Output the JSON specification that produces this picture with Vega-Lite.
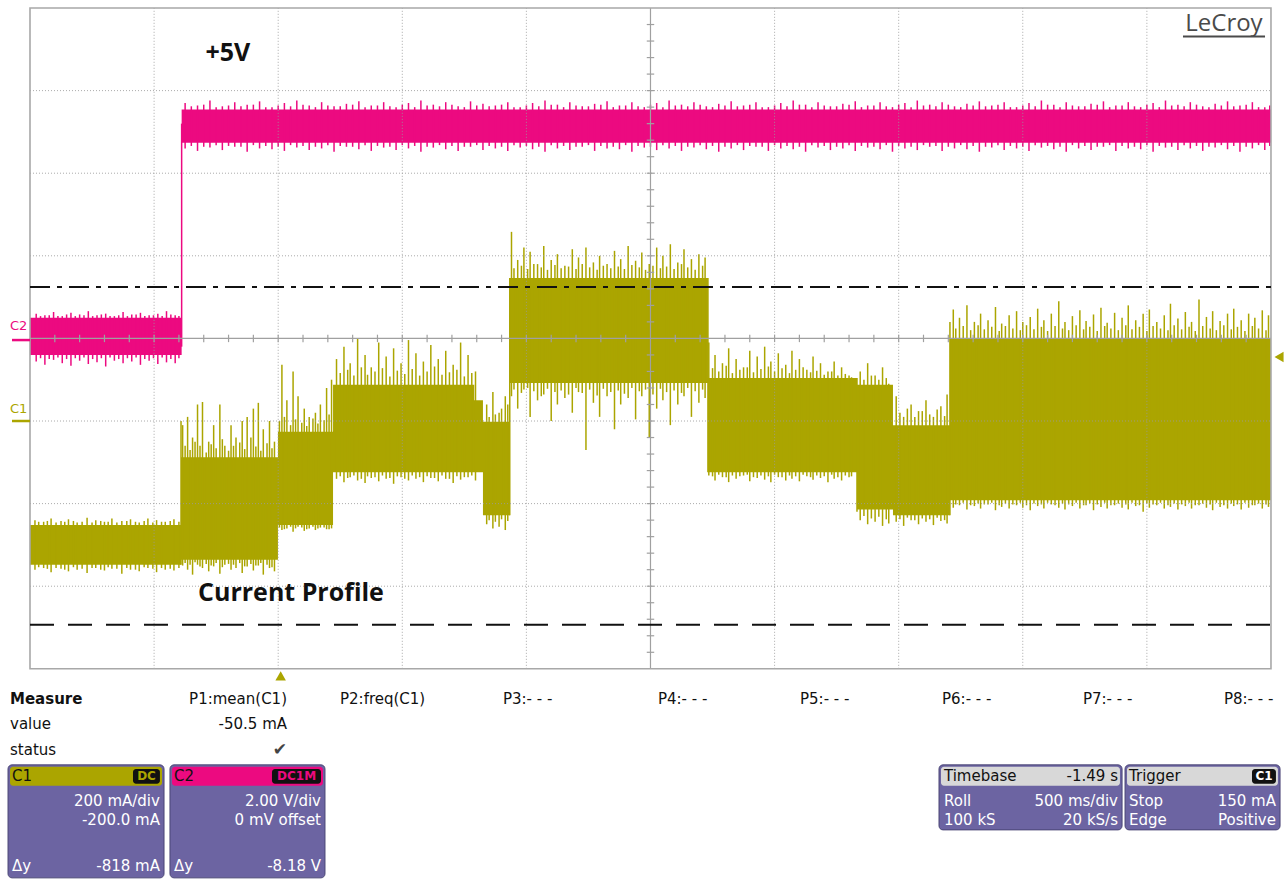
{
  "$schema": "https://vega.github.io/schema/vega-lite/v6.json",
  "width": 1285,
  "height": 882,
  "padding": 0,
  "autosize": {"type": "none"},
  "background": "white",
  "config": {"view": {"stroke": null}},
  "datasets": {
    "c2band": [
      {"t": 0, "lo": -0.2, "hi": 0.25},
      {"t": 1.222, "lo": 2.37, "hi": 2.77},
      {"t": 10, "lo": 2.37, "hi": 2.77}
    ],
    "c2spk": [
      {"t": 0.05, "hi": 0.30, "lo": -0.28}, {"t": 0.12, "hi": 0.28, "lo": -0.32}, {"t": 0.19, "hi": 0.32, "lo": -0.26},
      {"t": 0.26, "hi": 0.27, "lo": -0.30}, {"t": 0.33, "hi": 0.31, "lo": -0.33}, {"t": 0.40, "hi": 0.29, "lo": -0.27},
      {"t": 0.47, "hi": 0.33, "lo": -0.31}, {"t": 0.54, "hi": 0.28, "lo": -0.29}, {"t": 0.61, "hi": 0.30, "lo": -0.34},
      {"t": 0.68, "hi": 0.27, "lo": -0.27}, {"t": 0.75, "hi": 0.32, "lo": -0.30}, {"t": 0.82, "hi": 0.29, "lo": -0.28},
      {"t": 0.89, "hi": 0.31, "lo": -0.32}, {"t": 0.96, "hi": 0.28, "lo": -0.27}, {"t": 1.03, "hi": 0.30, "lo": -0.31},
      {"t": 1.10, "hi": 0.33, "lo": -0.29}, {"t": 1.17, "hi": 0.28, "lo": -0.30},
      {"t": 0.085, "hi": 0.27, "lo": -0.24}, {"t": 0.155, "hi": 0.28, "lo": -0.25}, {"t": 0.225, "hi": 0.27, "lo": -0.23},
      {"t": 0.295, "hi": 0.29, "lo": -0.25}, {"t": 0.365, "hi": 0.27, "lo": -0.24}, {"t": 0.435, "hi": 0.28, "lo": -0.23},
      {"t": 0.505, "hi": 0.27, "lo": -0.25}, {"t": 0.575, "hi": 0.29, "lo": -0.24}, {"t": 0.645, "hi": 0.27, "lo": -0.23},
      {"t": 0.715, "hi": 0.28, "lo": -0.25}, {"t": 0.785, "hi": 0.27, "lo": -0.24}, {"t": 0.855, "hi": 0.29, "lo": -0.23},
      {"t": 0.925, "hi": 0.27, "lo": -0.25}, {"t": 0.995, "hi": 0.28, "lo": -0.24}, {"t": 1.065, "hi": 0.27, "lo": -0.23},
      {"t": 1.135, "hi": 0.29, "lo": -0.25}, {"t": 1.20, "hi": 0.27, "lo": -0.24},
      {"t": 1.222, "hi": 2.6, "lo": -0.1},
      {"t": 1.25, "hi": 2.85, "lo": 2.30}, {"t": 1.35, "hi": 2.82, "lo": 2.27}, {"t": 1.45, "hi": 2.88, "lo": 2.31},
      {"t": 1.55, "hi": 2.81, "lo": 2.28}, {"t": 1.65, "hi": 2.86, "lo": 2.32}, {"t": 1.75, "hi": 2.83, "lo": 2.26},
      {"t": 1.85, "hi": 2.87, "lo": 2.30}, {"t": 1.95, "hi": 2.80, "lo": 2.29}, {"t": 2.05, "hi": 2.85, "lo": 2.27},
      {"t": 2.15, "hi": 2.88, "lo": 2.31}, {"t": 2.25, "hi": 2.82, "lo": 2.28}, {"t": 2.35, "hi": 2.86, "lo": 2.30},
      {"t": 2.45, "hi": 2.81, "lo": 2.26}, {"t": 2.55, "hi": 2.84, "lo": 2.32}, {"t": 2.65, "hi": 2.87, "lo": 2.29},
      {"t": 2.75, "hi": 2.82, "lo": 2.27}, {"t": 2.85, "hi": 2.86, "lo": 2.31}, {"t": 2.95, "hi": 2.80, "lo": 2.28},
      {"t": 3.05, "hi": 2.85, "lo": 2.30}, {"t": 3.15, "hi": 2.88, "lo": 2.26}, {"t": 3.25, "hi": 2.83, "lo": 2.31},
      {"t": 3.35, "hi": 2.86, "lo": 2.29}, {"t": 3.45, "hi": 2.81, "lo": 2.27}, {"t": 3.55, "hi": 2.87, "lo": 2.32},
      {"t": 3.65, "hi": 2.84, "lo": 2.28}, {"t": 3.75, "hi": 2.82, "lo": 2.30}, {"t": 3.85, "hi": 2.86, "lo": 2.27},
      {"t": 3.95, "hi": 2.80, "lo": 2.31}, {"t": 4.05, "hi": 2.85, "lo": 2.29}, {"t": 4.15, "hi": 2.88, "lo": 2.26},
      {"t": 4.25, "hi": 2.83, "lo": 2.30}, {"t": 4.35, "hi": 2.86, "lo": 2.28}, {"t": 4.45, "hi": 2.81, "lo": 2.32},
      {"t": 4.55, "hi": 2.84, "lo": 2.27}, {"t": 4.65, "hi": 2.87, "lo": 2.30}, {"t": 4.75, "hi": 2.82, "lo": 2.29},
      {"t": 4.85, "hi": 2.86, "lo": 2.26}, {"t": 4.95, "hi": 2.80, "lo": 2.31}, {"t": 5.05, "hi": 2.85, "lo": 2.28},
      {"t": 5.15, "hi": 2.88, "lo": 2.30}, {"t": 5.25, "hi": 2.83, "lo": 2.27}, {"t": 5.35, "hi": 2.86, "lo": 2.31},
      {"t": 5.45, "hi": 2.81, "lo": 2.29}, {"t": 5.55, "hi": 2.84, "lo": 2.26}, {"t": 5.65, "hi": 2.87, "lo": 2.30},
      {"t": 5.75, "hi": 2.82, "lo": 2.28}, {"t": 5.85, "hi": 2.86, "lo": 2.32}, {"t": 5.95, "hi": 2.80, "lo": 2.27},
      {"t": 6.05, "hi": 2.85, "lo": 2.30}, {"t": 6.15, "hi": 2.88, "lo": 2.29}, {"t": 6.25, "hi": 2.83, "lo": 2.26},
      {"t": 6.35, "hi": 2.86, "lo": 2.31}, {"t": 6.45, "hi": 2.81, "lo": 2.28}, {"t": 6.55, "hi": 2.84, "lo": 2.30},
      {"t": 6.65, "hi": 2.87, "lo": 2.27}, {"t": 6.75, "hi": 2.82, "lo": 2.31}, {"t": 6.85, "hi": 2.86, "lo": 2.29},
      {"t": 6.95, "hi": 2.80, "lo": 2.26}, {"t": 7.05, "hi": 2.85, "lo": 2.30}, {"t": 7.15, "hi": 2.88, "lo": 2.28},
      {"t": 7.25, "hi": 2.83, "lo": 2.32}, {"t": 7.35, "hi": 2.86, "lo": 2.27}, {"t": 7.45, "hi": 2.81, "lo": 2.30},
      {"t": 7.55, "hi": 2.84, "lo": 2.29}, {"t": 7.65, "hi": 2.87, "lo": 2.26}, {"t": 7.75, "hi": 2.82, "lo": 2.31},
      {"t": 7.85, "hi": 2.86, "lo": 2.28}, {"t": 7.95, "hi": 2.80, "lo": 2.30}, {"t": 8.05, "hi": 2.85, "lo": 2.27},
      {"t": 8.15, "hi": 2.88, "lo": 2.31}, {"t": 8.25, "hi": 2.83, "lo": 2.29}, {"t": 8.35, "hi": 2.86, "lo": 2.26},
      {"t": 8.45, "hi": 2.81, "lo": 2.30}, {"t": 8.55, "hi": 2.84, "lo": 2.28}, {"t": 8.65, "hi": 2.87, "lo": 2.32},
      {"t": 8.75, "hi": 2.82, "lo": 2.27}, {"t": 8.85, "hi": 2.86, "lo": 2.30}, {"t": 8.95, "hi": 2.80, "lo": 2.29},
      {"t": 9.05, "hi": 2.85, "lo": 2.26}, {"t": 9.15, "hi": 2.88, "lo": 2.31}, {"t": 9.25, "hi": 2.83, "lo": 2.28},
      {"t": 9.35, "hi": 2.86, "lo": 2.30}, {"t": 9.45, "hi": 2.81, "lo": 2.27}, {"t": 9.55, "hi": 2.84, "lo": 2.31},
      {"t": 9.65, "hi": 2.87, "lo": 2.29}, {"t": 9.75, "hi": 2.82, "lo": 2.26}, {"t": 9.85, "hi": 2.86, "lo": 2.30},
      {"t": 9.95, "hi": 2.80, "lo": 2.28},
      {"t": 1.30, "hi": 2.81, "lo": 2.33}, {"t": 1.40, "hi": 2.83, "lo": 2.32}, {"t": 1.50, "hi": 2.80, "lo": 2.34},
      {"t": 1.60, "hi": 2.82, "lo": 2.33}, {"t": 1.70, "hi": 2.81, "lo": 2.32}, {"t": 1.80, "hi": 2.83, "lo": 2.34},
      {"t": 1.90, "hi": 2.80, "lo": 2.33}, {"t": 2.00, "hi": 2.82, "lo": 2.32}, {"t": 2.10, "hi": 2.81, "lo": 2.34},
      {"t": 2.20, "hi": 2.83, "lo": 2.33}, {"t": 2.30, "hi": 2.80, "lo": 2.32}, {"t": 2.40, "hi": 2.82, "lo": 2.34},
      {"t": 2.50, "hi": 2.81, "lo": 2.33}, {"t": 2.60, "hi": 2.83, "lo": 2.32}, {"t": 2.70, "hi": 2.80, "lo": 2.34},
      {"t": 2.80, "hi": 2.82, "lo": 2.33}, {"t": 2.90, "hi": 2.81, "lo": 2.32}, {"t": 3.00, "hi": 2.83, "lo": 2.34},
      {"t": 3.10, "hi": 2.80, "lo": 2.33}, {"t": 3.20, "hi": 2.82, "lo": 2.32}, {"t": 3.30, "hi": 2.81, "lo": 2.34},
      {"t": 3.40, "hi": 2.83, "lo": 2.33}, {"t": 3.50, "hi": 2.80, "lo": 2.32}, {"t": 3.60, "hi": 2.82, "lo": 2.34},
      {"t": 3.70, "hi": 2.81, "lo": 2.33}, {"t": 3.80, "hi": 2.83, "lo": 2.32}, {"t": 3.90, "hi": 2.80, "lo": 2.34},
      {"t": 4.00, "hi": 2.82, "lo": 2.33}, {"t": 4.10, "hi": 2.81, "lo": 2.32}, {"t": 4.20, "hi": 2.83, "lo": 2.34},
      {"t": 4.30, "hi": 2.80, "lo": 2.33}, {"t": 4.40, "hi": 2.82, "lo": 2.32}, {"t": 4.50, "hi": 2.81, "lo": 2.34},
      {"t": 4.60, "hi": 2.83, "lo": 2.33}, {"t": 4.70, "hi": 2.80, "lo": 2.32}, {"t": 4.80, "hi": 2.82, "lo": 2.34},
      {"t": 4.90, "hi": 2.81, "lo": 2.33}, {"t": 5.00, "hi": 2.83, "lo": 2.32}, {"t": 5.10, "hi": 2.80, "lo": 2.34},
      {"t": 5.20, "hi": 2.82, "lo": 2.33}, {"t": 5.30, "hi": 2.81, "lo": 2.32}, {"t": 5.40, "hi": 2.83, "lo": 2.34},
      {"t": 5.50, "hi": 2.80, "lo": 2.33}, {"t": 5.60, "hi": 2.82, "lo": 2.32}, {"t": 5.70, "hi": 2.81, "lo": 2.34},
      {"t": 5.80, "hi": 2.83, "lo": 2.33}, {"t": 5.90, "hi": 2.80, "lo": 2.32}, {"t": 6.00, "hi": 2.82, "lo": 2.34},
      {"t": 6.10, "hi": 2.81, "lo": 2.33}, {"t": 6.20, "hi": 2.83, "lo": 2.32}, {"t": 6.30, "hi": 2.80, "lo": 2.34},
      {"t": 6.40, "hi": 2.82, "lo": 2.33}, {"t": 6.50, "hi": 2.81, "lo": 2.32}, {"t": 6.60, "hi": 2.83, "lo": 2.34},
      {"t": 6.70, "hi": 2.80, "lo": 2.33}, {"t": 6.80, "hi": 2.82, "lo": 2.32}, {"t": 6.90, "hi": 2.81, "lo": 2.34},
      {"t": 7.00, "hi": 2.83, "lo": 2.33}, {"t": 7.10, "hi": 2.80, "lo": 2.32}, {"t": 7.20, "hi": 2.82, "lo": 2.34},
      {"t": 7.30, "hi": 2.81, "lo": 2.33}, {"t": 7.40, "hi": 2.83, "lo": 2.32}, {"t": 7.50, "hi": 2.80, "lo": 2.34},
      {"t": 7.60, "hi": 2.82, "lo": 2.33}, {"t": 7.70, "hi": 2.81, "lo": 2.32}, {"t": 7.80, "hi": 2.83, "lo": 2.34},
      {"t": 7.90, "hi": 2.80, "lo": 2.33}, {"t": 8.00, "hi": 2.82, "lo": 2.32}, {"t": 8.10, "hi": 2.81, "lo": 2.34},
      {"t": 8.20, "hi": 2.83, "lo": 2.33}, {"t": 8.30, "hi": 2.80, "lo": 2.32}, {"t": 8.40, "hi": 2.82, "lo": 2.34},
      {"t": 8.50, "hi": 2.81, "lo": 2.33}, {"t": 8.60, "hi": 2.83, "lo": 2.32}, {"t": 8.70, "hi": 2.80, "lo": 2.34},
      {"t": 8.80, "hi": 2.82, "lo": 2.33}, {"t": 8.90, "hi": 2.81, "lo": 2.32}, {"t": 9.00, "hi": 2.83, "lo": 2.34},
      {"t": 9.10, "hi": 2.80, "lo": 2.33}, {"t": 9.20, "hi": 2.82, "lo": 2.32}, {"t": 9.30, "hi": 2.81, "lo": 2.34},
      {"t": 9.40, "hi": 2.83, "lo": 2.33}, {"t": 9.50, "hi": 2.80, "lo": 2.32}, {"t": 9.60, "hi": 2.82, "lo": 2.34},
      {"t": 9.70, "hi": 2.81, "lo": 2.33}, {"t": 9.80, "hi": 2.83, "lo": 2.32}, {"t": 9.90, "hi": 2.80, "lo": 2.34},
      {"t": 9.99, "hi": 2.82, "lo": 2.33}
    ],
    "c1band": [
      {"t": 0, "lo": -2.74, "hi": -2.26},
      {"t": 1.217, "lo": -2.68, "hi": -1.44},
      {"t": 1.998, "lo": -2.26, "hi": -1.13},
      {"t": 2.442, "lo": -1.62, "hi": -0.56},
      {"t": 3.58, "lo": -1.62, "hi": -0.75},
      {"t": 3.65, "lo": -2.14, "hi": -1.01},
      {"t": 3.868, "lo": -0.54, "hi": 0.73},
      {"t": 5.463, "lo": -1.62, "hi": -0.48},
      {"t": 6.664, "lo": -2.07, "hi": -0.56},
      {"t": 6.954, "lo": -2.14, "hi": -1.05},
      {"t": 7.413, "lo": -1.96, "hi": 0.0},
      {"t": 10, "lo": -1.96, "hi": 0.0}
    ],
    "c1spk": [
      {"t": 0.04, "hi": -2.20, "lo": -2.80}, {"t": 0.11, "hi": -2.22, "lo": -2.78}, {"t": 0.17, "hi": -2.18, "lo": -2.83},
      {"t": 0.25, "hi": -2.21, "lo": -2.79}, {"t": 0.31, "hi": -2.19, "lo": -2.82}, {"t": 0.38, "hi": -2.23, "lo": -2.80},
      {"t": 0.46, "hi": -2.17, "lo": -2.84}, {"t": 0.53, "hi": -2.20, "lo": -2.78}, {"t": 0.60, "hi": -2.22, "lo": -2.81},
      {"t": 0.66, "hi": -2.18, "lo": -2.79}, {"t": 0.74, "hi": -2.21, "lo": -2.85}, {"t": 0.81, "hi": -2.19, "lo": -2.80},
      {"t": 0.88, "hi": -2.23, "lo": -2.82}, {"t": 0.95, "hi": -2.18, "lo": -2.78}, {"t": 1.02, "hi": -2.20, "lo": -2.83},
      {"t": 1.09, "hi": -2.22, "lo": -2.80}, {"t": 1.16, "hi": -2.19, "lo": -2.81},
      {"t": 0.07, "hi": -2.22, "lo": -2.77}, {"t": 0.14, "hi": -2.21, "lo": -2.79}, {"t": 0.21, "hi": -2.23, "lo": -2.78},
      {"t": 0.28, "hi": -2.22, "lo": -2.80}, {"t": 0.35, "hi": -2.21, "lo": -2.77}, {"t": 0.42, "hi": -2.22, "lo": -2.79},
      {"t": 0.50, "hi": -2.23, "lo": -2.78}, {"t": 0.57, "hi": -2.21, "lo": -2.80}, {"t": 0.63, "hi": -2.22, "lo": -2.77},
      {"t": 0.70, "hi": -2.23, "lo": -2.79}, {"t": 0.78, "hi": -2.21, "lo": -2.78}, {"t": 0.85, "hi": -2.22, "lo": -2.80},
      {"t": 0.92, "hi": -2.21, "lo": -2.77}, {"t": 0.99, "hi": -2.23, "lo": -2.79}, {"t": 1.06, "hi": -2.22, "lo": -2.78},
      {"t": 1.13, "hi": -2.21, "lo": -2.79}, {"t": 1.20, "hi": -2.22, "lo": -2.78},
      {"t": 1.217, "hi": -1.0, "lo": -2.74},
      {"t": 1.23, "hi": -1.05, "lo": -2.75}, {"t": 1.27, "hi": -0.95, "lo": -2.80}, {"t": 1.31, "hi": -1.20, "lo": -2.86},
      {"t": 1.35, "hi": -0.80, "lo": -2.74}, {"t": 1.39, "hi": -0.77, "lo": -2.78}, {"t": 1.44, "hi": -1.25, "lo": -2.82},
      {"t": 1.48, "hi": -1.05, "lo": -2.76}, {"t": 1.53, "hi": -0.80, "lo": -2.85}, {"t": 1.57, "hi": -1.30, "lo": -2.74},
      {"t": 1.62, "hi": -1.05, "lo": -2.80}, {"t": 1.66, "hi": -1.20, "lo": -2.78}, {"t": 1.71, "hi": -1.00, "lo": -2.84},
      {"t": 1.75, "hi": -0.95, "lo": -2.76}, {"t": 1.80, "hi": -0.85, "lo": -2.81}, {"t": 1.84, "hi": -0.78, "lo": -2.75},
      {"t": 1.88, "hi": -1.10, "lo": -2.86}, {"t": 1.93, "hi": -1.00, "lo": -2.78}, {"t": 1.97, "hi": -1.25, "lo": -2.82},
      {"t": 1.25, "hi": -1.30, "lo": -2.72}, {"t": 1.29, "hi": -1.35, "lo": -2.74}, {"t": 1.33, "hi": -1.25, "lo": -2.71},
      {"t": 1.37, "hi": -1.30, "lo": -2.76}, {"t": 1.42, "hi": -1.38, "lo": -2.73}, {"t": 1.46, "hi": -1.28, "lo": -2.75},
      {"t": 1.50, "hi": -1.33, "lo": -2.72}, {"t": 1.55, "hi": -1.22, "lo": -2.77}, {"t": 1.60, "hi": -1.36, "lo": -2.73},
      {"t": 1.64, "hi": -1.30, "lo": -2.74}, {"t": 1.69, "hi": -1.26, "lo": -2.72}, {"t": 1.73, "hi": -1.34, "lo": -2.76},
      {"t": 1.78, "hi": -1.20, "lo": -2.73}, {"t": 1.82, "hi": -1.31, "lo": -2.75}, {"t": 1.86, "hi": -1.36, "lo": -2.72},
      {"t": 1.91, "hi": -1.27, "lo": -2.74}, {"t": 1.95, "hi": -1.33, "lo": -2.77},
      {"t": 2.03, "hi": -0.32, "lo": -2.32}, {"t": 2.07, "hi": -0.75, "lo": -2.30}, {"t": 2.12, "hi": -0.40, "lo": -2.34},
      {"t": 2.16, "hi": -0.70, "lo": -2.28}, {"t": 2.21, "hi": -0.85, "lo": -2.33}, {"t": 2.25, "hi": -0.95, "lo": -2.30},
      {"t": 2.30, "hi": -0.90, "lo": -2.32}, {"t": 2.34, "hi": -0.80, "lo": -2.29}, {"t": 2.39, "hi": -0.60, "lo": -2.31},
      {"t": 2.43, "hi": -0.50, "lo": -2.30},
      {"t": 2.01, "hi": -1.00, "lo": -2.29}, {"t": 2.05, "hi": -0.95, "lo": -2.31}, {"t": 2.10, "hi": -1.05, "lo": -2.28},
      {"t": 2.14, "hi": -0.98, "lo": -2.30}, {"t": 2.19, "hi": -1.02, "lo": -2.29}, {"t": 2.23, "hi": -1.06, "lo": -2.31},
      {"t": 2.28, "hi": -0.97, "lo": -2.28}, {"t": 2.32, "hi": -1.03, "lo": -2.30}, {"t": 2.37, "hi": -0.99, "lo": -2.29},
      {"t": 2.41, "hi": -0.92, "lo": -2.31},
      {"t": 2.47, "hi": -0.25, "lo": -1.70}, {"t": 2.53, "hi": -0.10, "lo": -1.74}, {"t": 2.58, "hi": -0.30, "lo": -1.68},
      {"t": 2.64, "hi": 0.00, "lo": -1.72}, {"t": 2.70, "hi": -0.20, "lo": -1.75}, {"t": 2.75, "hi": -0.35, "lo": -1.69},
      {"t": 2.81, "hi": -0.05, "lo": -1.73}, {"t": 2.87, "hi": -0.22, "lo": -1.70}, {"t": 2.93, "hi": -0.12, "lo": -1.76},
      {"t": 2.99, "hi": -0.30, "lo": -1.68}, {"t": 3.05, "hi": -0.02, "lo": -1.72}, {"t": 3.11, "hi": -0.18, "lo": -1.70},
      {"t": 3.17, "hi": -0.28, "lo": -1.74}, {"t": 3.23, "hi": -0.08, "lo": -1.69}, {"t": 3.29, "hi": -0.25, "lo": -1.73},
      {"t": 3.35, "hi": -0.15, "lo": -1.70}, {"t": 3.41, "hi": -0.32, "lo": -1.75}, {"t": 3.47, "hi": -0.05, "lo": -1.71},
      {"t": 3.53, "hi": -0.20, "lo": -1.68}, {"t": 3.59, "hi": -0.40, "lo": -1.72},
      {"t": 2.50, "hi": -0.42, "lo": -1.67}, {"t": 2.56, "hi": -0.38, "lo": -1.69}, {"t": 2.61, "hi": -0.45, "lo": -1.66},
      {"t": 2.67, "hi": -0.35, "lo": -1.70}, {"t": 2.72, "hi": -0.44, "lo": -1.67}, {"t": 2.78, "hi": -0.40, "lo": -1.68},
      {"t": 2.84, "hi": -0.36, "lo": -1.66}, {"t": 2.90, "hi": -0.46, "lo": -1.69}, {"t": 2.96, "hi": -0.39, "lo": -1.67},
      {"t": 3.02, "hi": -0.43, "lo": -1.70}, {"t": 3.08, "hi": -0.37, "lo": -1.66}, {"t": 3.14, "hi": -0.45, "lo": -1.68},
      {"t": 3.20, "hi": -0.40, "lo": -1.67}, {"t": 3.26, "hi": -0.34, "lo": -1.69}, {"t": 3.32, "hi": -0.44, "lo": -1.66},
      {"t": 3.38, "hi": -0.41, "lo": -1.70}, {"t": 3.44, "hi": -0.38, "lo": -1.67}, {"t": 3.50, "hi": -0.46, "lo": -1.68},
      {"t": 3.56, "hi": -0.42, "lo": -1.66},
      {"t": 3.68, "hi": -0.80, "lo": -2.25}, {"t": 3.73, "hi": -0.65, "lo": -2.30}, {"t": 3.78, "hi": -0.90, "lo": -2.28},
      {"t": 3.83, "hi": -0.70, "lo": -2.32}, {"t": 3.70, "hi": -0.95, "lo": -2.20}, {"t": 3.75, "hi": -0.92, "lo": -2.22},
      {"t": 3.80, "hi": -0.85, "lo": -2.19}, {"t": 3.85, "hi": -0.80, "lo": -2.21},
      {"t": 3.866, "hi": 0.73, "lo": -2.14},
      {"t": 3.88, "hi": 1.29, "lo": -0.70}, {"t": 3.93, "hi": 0.95, "lo": -0.85}, {"t": 3.98, "hi": 1.10, "lo": -0.62},
      {"t": 4.03, "hi": 1.05, "lo": -0.95}, {"t": 4.09, "hi": 0.90, "lo": -0.75}, {"t": 4.14, "hi": 1.12, "lo": -0.68},
      {"t": 4.20, "hi": 0.95, "lo": -1.00}, {"t": 4.25, "hi": 1.02, "lo": -0.80}, {"t": 4.31, "hi": 0.88, "lo": -0.72},
      {"t": 4.37, "hi": 1.08, "lo": -0.90}, {"t": 4.42, "hi": 0.98, "lo": -0.65}, {"t": 4.48, "hi": 1.10, "lo": -1.35},
      {"t": 4.54, "hi": 0.92, "lo": -0.78}, {"t": 4.59, "hi": 1.00, "lo": -0.95}, {"t": 4.65, "hi": 0.90, "lo": -0.70},
      {"t": 4.71, "hi": 1.06, "lo": -1.10}, {"t": 4.76, "hi": 0.96, "lo": -0.80}, {"t": 4.82, "hi": 1.12, "lo": -0.72},
      {"t": 4.88, "hi": 0.94, "lo": -0.98}, {"t": 4.93, "hi": 1.04, "lo": -0.70}, {"t": 4.99, "hi": 0.90, "lo": -1.20},
      {"t": 5.05, "hi": 1.10, "lo": -0.85}, {"t": 5.10, "hi": 1.00, "lo": -0.75}, {"t": 5.16, "hi": 1.14, "lo": -1.05},
      {"t": 5.22, "hi": 0.92, "lo": -0.80}, {"t": 5.27, "hi": 1.08, "lo": -0.70}, {"t": 5.33, "hi": 0.96, "lo": -0.95},
      {"t": 5.39, "hi": 1.02, "lo": -0.78}, {"t": 5.44, "hi": 0.98, "lo": -0.72},
      {"t": 3.90, "hi": 0.85, "lo": -0.62}, {"t": 3.96, "hi": 0.88, "lo": -0.66}, {"t": 4.01, "hi": 0.84, "lo": -0.60},
      {"t": 4.06, "hi": 0.90, "lo": -0.64}, {"t": 4.12, "hi": 0.86, "lo": -0.70}, {"t": 4.17, "hi": 0.83, "lo": -0.61},
      {"t": 4.23, "hi": 0.89, "lo": -0.65}, {"t": 4.28, "hi": 0.85, "lo": -0.63}, {"t": 4.34, "hi": 0.87, "lo": -0.68},
      {"t": 4.40, "hi": 0.84, "lo": -0.60}, {"t": 4.45, "hi": 0.90, "lo": -0.66}, {"t": 4.51, "hi": 0.86, "lo": -0.62},
      {"t": 4.57, "hi": 0.83, "lo": -0.69}, {"t": 4.62, "hi": 0.88, "lo": -0.61}, {"t": 4.68, "hi": 0.85, "lo": -0.65},
      {"t": 4.74, "hi": 0.87, "lo": -0.63}, {"t": 4.79, "hi": 0.84, "lo": -0.67}, {"t": 4.85, "hi": 0.89, "lo": -0.60},
      {"t": 4.91, "hi": 0.86, "lo": -0.64}, {"t": 4.96, "hi": 0.83, "lo": -0.62}, {"t": 5.02, "hi": 0.88, "lo": -0.68},
      {"t": 5.08, "hi": 0.85, "lo": -0.61}, {"t": 5.13, "hi": 0.87, "lo": -0.65}, {"t": 5.19, "hi": 0.84, "lo": -0.63},
      {"t": 5.25, "hi": 0.90, "lo": -0.66}, {"t": 5.30, "hi": 0.86, "lo": -0.60}, {"t": 5.36, "hi": 0.83, "lo": -0.64},
      {"t": 5.42, "hi": 0.88, "lo": -0.62},
      {"t": 5.463, "hi": 0.73, "lo": -1.62},
      {"t": 5.47, "hi": -0.05, "lo": -1.66}, {"t": 5.52, "hi": -0.20, "lo": -1.72}, {"t": 5.58, "hi": -0.30, "lo": -1.68},
      {"t": 5.63, "hi": -0.12, "lo": -1.74}, {"t": 5.69, "hi": -0.25, "lo": -1.70}, {"t": 5.75, "hi": -0.35, "lo": -1.66},
      {"t": 5.80, "hi": -0.15, "lo": -1.73}, {"t": 5.86, "hi": -0.22, "lo": -1.69}, {"t": 5.92, "hi": -0.10, "lo": -1.71},
      {"t": 5.97, "hi": -0.28, "lo": -1.74}, {"t": 6.03, "hi": -0.18, "lo": -1.68}, {"t": 6.09, "hi": -0.32, "lo": -1.72},
      {"t": 6.14, "hi": -0.15, "lo": -1.70}, {"t": 6.20, "hi": -0.25, "lo": -1.73}, {"t": 6.26, "hi": -0.38, "lo": -1.67},
      {"t": 6.31, "hi": -0.22, "lo": -1.71}, {"t": 6.37, "hi": -0.30, "lo": -1.69}, {"t": 6.43, "hi": -0.40, "lo": -1.74},
      {"t": 6.48, "hi": -0.28, "lo": -1.70}, {"t": 6.54, "hi": -0.35, "lo": -1.72}, {"t": 6.60, "hi": -0.45, "lo": -1.68},
      {"t": 5.50, "hi": -0.36, "lo": -1.67}, {"t": 5.55, "hi": -0.40, "lo": -1.65}, {"t": 5.61, "hi": -0.33, "lo": -1.68},
      {"t": 5.66, "hi": -0.42, "lo": -1.66}, {"t": 5.72, "hi": -0.38, "lo": -1.67}, {"t": 5.78, "hi": -0.35, "lo": -1.65},
      {"t": 5.83, "hi": -0.41, "lo": -1.68}, {"t": 5.89, "hi": -0.37, "lo": -1.66}, {"t": 5.95, "hi": -0.34, "lo": -1.67},
      {"t": 6.00, "hi": -0.40, "lo": -1.65}, {"t": 6.06, "hi": -0.36, "lo": -1.68}, {"t": 6.12, "hi": -0.42, "lo": -1.66},
      {"t": 6.17, "hi": -0.38, "lo": -1.67}, {"t": 6.23, "hi": -0.35, "lo": -1.65}, {"t": 6.29, "hi": -0.41, "lo": -1.68},
      {"t": 6.34, "hi": -0.39, "lo": -1.66}, {"t": 6.40, "hi": -0.44, "lo": -1.67}, {"t": 6.46, "hi": -0.40, "lo": -1.65},
      {"t": 6.51, "hi": -0.45, "lo": -1.68}, {"t": 6.57, "hi": -0.43, "lo": -1.66}, {"t": 6.62, "hi": -0.47, "lo": -1.67},
      {"t": 6.664, "hi": -0.48, "lo": -2.10},
      {"t": 6.69, "hi": -0.40, "lo": -2.20}, {"t": 6.75, "hi": -0.30, "lo": -2.25}, {"t": 6.81, "hi": -0.45, "lo": -2.22},
      {"t": 6.87, "hi": -0.35, "lo": -2.27}, {"t": 6.92, "hi": -0.55, "lo": -2.24},
      {"t": 6.72, "hi": -0.50, "lo": -2.15}, {"t": 6.78, "hi": -0.45, "lo": -2.18}, {"t": 6.84, "hi": -0.50, "lo": -2.16},
      {"t": 6.90, "hi": -0.48, "lo": -2.19},
      {"t": 6.98, "hi": -0.70, "lo": -2.22}, {"t": 7.04, "hi": -0.95, "lo": -2.27}, {"t": 7.10, "hi": -0.80, "lo": -2.20},
      {"t": 7.16, "hi": -0.88, "lo": -2.25}, {"t": 7.22, "hi": -0.75, "lo": -2.22}, {"t": 7.28, "hi": -0.95, "lo": -2.26},
      {"t": 7.34, "hi": -0.82, "lo": -2.21}, {"t": 7.39, "hi": -0.68, "lo": -2.24},
      {"t": 7.01, "hi": -0.90, "lo": -2.19}, {"t": 7.07, "hi": -0.85, "lo": -2.17}, {"t": 7.13, "hi": -0.95, "lo": -2.20},
      {"t": 7.19, "hi": -0.88, "lo": -2.18}, {"t": 7.25, "hi": -0.92, "lo": -2.19}, {"t": 7.31, "hi": -0.86, "lo": -2.17},
      {"t": 7.37, "hi": -0.94, "lo": -2.20},
      {"t": 7.413, "hi": 0.20, "lo": -2.14},
      {"t": 7.44, "hi": 0.35, "lo": -2.05}, {"t": 7.49, "hi": 0.25, "lo": -2.02}, {"t": 7.55, "hi": 0.40, "lo": -2.07},
      {"t": 7.61, "hi": 0.20, "lo": -2.03}, {"t": 7.66, "hi": 0.30, "lo": -2.06}, {"t": 7.72, "hi": 0.22, "lo": -2.01},
      {"t": 7.78, "hi": 0.38, "lo": -2.08}, {"t": 7.83, "hi": 0.18, "lo": -2.04}, {"t": 7.89, "hi": 0.28, "lo": -2.06},
      {"t": 7.95, "hi": 0.33, "lo": -2.02}, {"t": 8.00, "hi": 0.20, "lo": -2.05}, {"t": 8.06, "hi": 0.26, "lo": -2.08},
      {"t": 8.12, "hi": 0.36, "lo": -2.03}, {"t": 8.17, "hi": 0.22, "lo": -2.06}, {"t": 8.23, "hi": 0.30, "lo": -2.01},
      {"t": 8.29, "hi": 0.45, "lo": -2.05}, {"t": 8.34, "hi": 0.20, "lo": -2.07}, {"t": 8.40, "hi": 0.27, "lo": -2.03},
      {"t": 8.46, "hi": 0.34, "lo": -2.06}, {"t": 8.51, "hi": 0.21, "lo": -2.02}, {"t": 8.57, "hi": 0.29, "lo": -2.08},
      {"t": 8.63, "hi": 0.37, "lo": -2.04}, {"t": 8.68, "hi": 0.19, "lo": -2.06}, {"t": 8.74, "hi": 0.31, "lo": -2.02},
      {"t": 8.80, "hi": 0.25, "lo": -2.05}, {"t": 8.85, "hi": 0.40, "lo": -2.07}, {"t": 8.91, "hi": 0.22, "lo": -2.03},
      {"t": 8.97, "hi": 0.30, "lo": -2.10}, {"t": 9.02, "hi": 0.35, "lo": -2.05}, {"t": 9.08, "hi": 0.20, "lo": -2.02},
      {"t": 9.14, "hi": 0.28, "lo": -2.06}, {"t": 9.19, "hi": 0.42, "lo": -2.04}, {"t": 9.25, "hi": 0.24, "lo": -2.07},
      {"t": 9.31, "hi": 0.32, "lo": -2.03}, {"t": 9.36, "hi": 0.20, "lo": -2.06}, {"t": 9.42, "hi": 0.47, "lo": -2.02},
      {"t": 9.48, "hi": 0.26, "lo": -2.05}, {"t": 9.53, "hi": 0.33, "lo": -2.08}, {"t": 9.59, "hi": 0.21, "lo": -2.04},
      {"t": 9.65, "hi": 0.30, "lo": -2.06}, {"t": 9.70, "hi": 0.36, "lo": -2.03}, {"t": 9.76, "hi": 0.22, "lo": -2.07},
      {"t": 9.82, "hi": 0.30, "lo": -2.05}, {"t": 9.87, "hi": 0.25, "lo": -2.02}, {"t": 9.93, "hi": 0.34, "lo": -2.06},
      {"t": 9.98, "hi": 0.28, "lo": -2.04},
      {"t": 7.46, "hi": 0.12, "lo": -2.01}, {"t": 7.52, "hi": 0.15, "lo": -1.99}, {"t": 7.58, "hi": 0.10, "lo": -2.02},
      {"t": 7.64, "hi": 0.16, "lo": -2.00}, {"t": 7.69, "hi": 0.11, "lo": -2.01}, {"t": 7.75, "hi": 0.14, "lo": -1.99},
      {"t": 7.81, "hi": 0.09, "lo": -2.02}, {"t": 7.86, "hi": 0.15, "lo": -2.00}, {"t": 7.92, "hi": 0.12, "lo": -2.01},
      {"t": 7.98, "hi": 0.10, "lo": -1.99}, {"t": 8.03, "hi": 0.16, "lo": -2.02}, {"t": 8.09, "hi": 0.11, "lo": -2.00},
      {"t": 8.15, "hi": 0.14, "lo": -2.01}, {"t": 8.20, "hi": 0.09, "lo": -1.99}, {"t": 8.26, "hi": 0.15, "lo": -2.02},
      {"t": 8.32, "hi": 0.12, "lo": -2.00}, {"t": 8.37, "hi": 0.10, "lo": -2.01}, {"t": 8.43, "hi": 0.16, "lo": -1.99},
      {"t": 8.49, "hi": 0.11, "lo": -2.02}, {"t": 8.54, "hi": 0.14, "lo": -2.00}, {"t": 8.60, "hi": 0.09, "lo": -2.01},
      {"t": 8.66, "hi": 0.15, "lo": -1.99}, {"t": 8.71, "hi": 0.12, "lo": -2.02}, {"t": 8.77, "hi": 0.10, "lo": -2.00},
      {"t": 8.83, "hi": 0.16, "lo": -2.01}, {"t": 8.88, "hi": 0.11, "lo": -1.99}, {"t": 8.94, "hi": 0.14, "lo": -2.02},
      {"t": 9.00, "hi": 0.09, "lo": -2.00}, {"t": 9.05, "hi": 0.15, "lo": -2.01}, {"t": 9.11, "hi": 0.12, "lo": -1.99},
      {"t": 9.17, "hi": 0.10, "lo": -2.02}, {"t": 9.22, "hi": 0.16, "lo": -2.00}, {"t": 9.28, "hi": 0.11, "lo": -2.01},
      {"t": 9.34, "hi": 0.14, "lo": -1.99}, {"t": 9.39, "hi": 0.09, "lo": -2.02}, {"t": 9.45, "hi": 0.15, "lo": -2.00},
      {"t": 9.51, "hi": 0.12, "lo": -2.01}, {"t": 9.56, "hi": 0.10, "lo": -1.99}, {"t": 9.62, "hi": 0.16, "lo": -2.02},
      {"t": 9.68, "hi": 0.11, "lo": -2.00}, {"t": 9.73, "hi": 0.14, "lo": -2.01}, {"t": 9.79, "hi": 0.09, "lo": -1.99},
      {"t": 9.85, "hi": 0.15, "lo": -2.02}, {"t": 9.90, "hi": 0.12, "lo": -2.00}, {"t": 9.96, "hi": 0.10, "lo": -2.01}
    ],
    "gridV": [{"x": 1}, {"x": 2}, {"x": 3}, {"x": 4}, {"x": 6}, {"x": 7}, {"x": 8}, {"x": 9}],
    "gridH": [{"y": 3}, {"y": 2}, {"y": 1}, {"y": -1}, {"y": -2}, {"y": -3}],
    "ticksX": [
      {"x": 0.2}, {"x": 0.4}, {"x": 0.6}, {"x": 0.8}, {"x": 1.0}, {"x": 1.2}, {"x": 1.4}, {"x": 1.6}, {"x": 1.8}, {"x": 2.0},
      {"x": 2.2}, {"x": 2.4}, {"x": 2.6}, {"x": 2.8}, {"x": 3.0}, {"x": 3.2}, {"x": 3.4}, {"x": 3.6}, {"x": 3.8}, {"x": 4.0},
      {"x": 4.2}, {"x": 4.4}, {"x": 4.6}, {"x": 4.8}, {"x": 5.2}, {"x": 5.4}, {"x": 5.6}, {"x": 5.8}, {"x": 6.0},
      {"x": 6.2}, {"x": 6.4}, {"x": 6.6}, {"x": 6.8}, {"x": 7.0}, {"x": 7.2}, {"x": 7.4}, {"x": 7.6}, {"x": 7.8}, {"x": 8.0},
      {"x": 8.2}, {"x": 8.4}, {"x": 8.6}, {"x": 8.8}, {"x": 9.0}, {"x": 9.2}, {"x": 9.4}, {"x": 9.6}, {"x": 9.8}
    ],
    "ticksY": [
      {"y": 3.8}, {"y": 3.6}, {"y": 3.4}, {"y": 3.2}, {"y": 3.0}, {"y": 2.8}, {"y": 2.6}, {"y": 2.4}, {"y": 2.2}, {"y": 2.0},
      {"y": 1.8}, {"y": 1.6}, {"y": 1.4}, {"y": 1.2}, {"y": 1.0}, {"y": 0.8}, {"y": 0.6}, {"y": 0.4}, {"y": 0.2},
      {"y": -0.2}, {"y": -0.4}, {"y": -0.6}, {"y": -0.8}, {"y": -1.0}, {"y": -1.2}, {"y": -1.4}, {"y": -1.6}, {"y": -1.8},
      {"y": -2.0}, {"y": -2.2}, {"y": -2.4}, {"y": -2.6}, {"y": -2.8}, {"y": -3.0}, {"y": -3.2}, {"y": -3.4}, {"y": -3.6}, {"y": -3.8}
    ],
    "boxes": [
      {"k": "panel", "x": -0.177, "x2": 1.080, "y": -5.163, "y2": -6.531},
      {"k": "panel", "x": 1.128, "x2": 2.377, "y": -5.163, "y2": -6.531},
      {"k": "panel", "x": 7.325, "x2": 8.800, "y": -5.163, "y2": -5.950},
      {"k": "panel", "x": 8.824, "x2": 10.073, "y": -5.163, "y2": -5.950},
      {"k": "hc1", "x": -0.161, "x2": 1.064, "y": -5.187, "y2": -5.417},
      {"k": "hc2", "x": 1.144, "x2": 2.361, "y": -5.187, "y2": -5.417},
      {"k": "hgrey", "x": 7.341, "x2": 8.783, "y": -5.187, "y2": -5.417},
      {"k": "hgrey", "x": 8.840, "x2": 10.056, "y": -5.187, "y2": -5.417},
      {"k": "badge", "x": 0.830, "x2": 1.047, "y": -5.212, "y2": -5.393},
      {"k": "badge", "x": 1.950, "x2": 2.345, "y": -5.212, "y2": -5.393},
      {"k": "badge", "x": 9.847, "x2": 10.040, "y": -5.212, "y2": -5.393}
    ],
    "labels": [
      {"g": "big", "text": "+5V", "x": 1.595, "y": 3.455},
      {"g": "big", "text": "Current Profile", "x": 2.103, "y": -3.081},
      {"g": "logo", "text": "LeCroy", "x": 9.621, "y": 3.81},
      {"g": "c2lab", "text": "C2", "x": -0.161, "y": 0.151},
      {"g": "c1lab", "text": "C1", "x": -0.161, "y": -0.853},
      {"g": "bold", "text": "Measure", "x": -0.161, "y": -4.364},
      {"g": "il", "text": "value", "x": -0.161, "y": -4.667},
      {"g": "il", "text": "status", "x": -0.161, "y": -4.982},
      {"g": "il", "text": "P2:freq(C1)", "x": 2.498, "y": -4.364},
      {"g": "il", "text": "P3:- - -", "x": 3.811, "y": -4.364},
      {"g": "il", "text": "P4:- - -", "x": 5.060, "y": -4.364},
      {"g": "il", "text": "P5:- - -", "x": 6.205, "y": -4.364},
      {"g": "il", "text": "P6:- - -", "x": 7.349, "y": -4.364},
      {"g": "il", "text": "P7:- - -", "x": 8.485, "y": -4.364},
      {"g": "il", "text": "P8:- - -", "x": 9.621, "y": -4.364},
      {"g": "ir", "text": "P1:mean(C1)", "x": 2.071, "y": -4.364},
      {"g": "ir", "text": "-50.5 mA", "x": 2.071, "y": -4.667},
      {"g": "check", "text": "✔", "x": 2.071, "y": -4.982},
      {"g": "hl", "text": "C1", "x": -0.145, "y": -5.296},
      {"g": "hl", "text": "C2", "x": 1.160, "y": -5.296},
      {"g": "hl", "text": "Timebase", "x": 7.365, "y": -5.296},
      {"g": "hl", "text": "Trigger", "x": 8.856, "y": -5.296},
      {"g": "hr", "text": "-1.49 s", "x": 8.767, "y": -5.296},
      {"g": "bdc1", "text": "DC", "x": 0.939, "y": -5.300},
      {"g": "bdc2", "text": "DC1M", "x": 2.148, "y": -5.300},
      {"g": "btr", "text": "C1", "x": 9.944, "y": -5.300},
      {"g": "wr", "text": "200 mA/div", "x": 1.047, "y": -5.599},
      {"g": "wr", "text": "-200.0 mA", "x": 1.047, "y": -5.829},
      {"g": "wr", "text": "-818 mA", "x": 1.047, "y": -6.386},
      {"g": "wl", "text": "Δy", "x": -0.145, "y": -6.386},
      {"g": "wr", "text": "2.00 V/div", "x": 2.345, "y": -5.599},
      {"g": "wr", "text": "0 mV offset", "x": 2.345, "y": -5.829},
      {"g": "wr", "text": "-8.18 V", "x": 2.345, "y": -6.386},
      {"g": "wl", "text": "Δy", "x": 1.160, "y": -6.386},
      {"g": "wl", "text": "Roll", "x": 7.365, "y": -5.599},
      {"g": "wl", "text": "100 kS", "x": 7.365, "y": -5.829},
      {"g": "wr", "text": "500 ms/div", "x": 8.767, "y": -5.599},
      {"g": "wr", "text": "20 kS/s", "x": 8.767, "y": -5.829},
      {"g": "wl", "text": "Stop", "x": 8.856, "y": -5.599},
      {"g": "wl", "text": "Edge", "x": 8.856, "y": -5.829},
      {"g": "wr", "text": "150 mA", "x": 10.040, "y": -5.599},
      {"g": "wr", "text": "Positive", "x": 10.040, "y": -5.829}
    ]
  },
  "layer": [
    {
      "data": {"name": "c2band"},
      "mark": {"type": "area", "interpolate": "step-after", "color": "#EC0A80"},
      "encoding": {
        "x": {"field": "t", "type": "quantitative", "scale": {"domain": [-0.2417, 10.113], "nice": false, "zero": false}, "axis": null},
        "y": {"field": "hi", "type": "quantitative", "scale": {"domain": [-6.581, 4.097], "nice": false, "zero": false}, "axis": null},
        "y2": {"field": "lo"}
      }
    },
    {
      "data": {"name": "c2spk"},
      "mark": {"type": "rule", "color": "#EC0A80", "strokeWidth": 1.5},
      "encoding": {
        "x": {"field": "t", "type": "quantitative"},
        "y": {"field": "hi", "type": "quantitative"},
        "y2": {"field": "lo"}
      }
    },
    {
      "data": {"name": "c1band"},
      "mark": {"type": "area", "interpolate": "step-after", "color": "#ABA500"},
      "encoding": {
        "x": {"field": "t", "type": "quantitative"},
        "y": {"field": "hi", "type": "quantitative"},
        "y2": {"field": "lo"}
      }
    },
    {
      "data": {"name": "c1spk"},
      "mark": {"type": "rule", "color": "#ABA500", "strokeWidth": 1.5},
      "encoding": {
        "x": {"field": "t", "type": "quantitative"},
        "y": {"field": "hi", "type": "quantitative"},
        "y2": {"field": "lo"}
      }
    },
    {
      "data": {"name": "gridV"},
      "mark": {"type": "rule", "color": "#9A9A9A", "strokeWidth": 1, "strokeDash": [1, 2], "opacity": 0.85},
      "encoding": {
        "x": {"field": "x", "type": "quantitative"},
        "y": {"datum": -4},
        "y2": {"datum": 4}
      }
    },
    {
      "data": {"name": "gridH"},
      "mark": {"type": "rule", "color": "#9A9A9A", "strokeWidth": 1, "strokeDash": [1, 2], "opacity": 0.85},
      "encoding": {
        "y": {"field": "y", "type": "quantitative"},
        "x": {"datum": 0},
        "x2": {"datum": 10}
      }
    },
    {
      "data": {"values": [{"a": 1}]},
      "mark": {"type": "rule", "color": "#A0A0A0", "strokeWidth": 1.2},
      "encoding": {"x": {"datum": 5}, "y": {"datum": -4}, "y2": {"datum": 4}}
    },
    {
      "data": {"values": [{"a": 1}]},
      "mark": {"type": "rule", "color": "#A0A0A0", "strokeWidth": 1.2},
      "encoding": {"y": {"datum": 0}, "x": {"datum": 0}, "x2": {"datum": 10}}
    },
    {
      "data": {"name": "ticksX"},
      "mark": {"type": "rule", "color": "#A0A0A0", "strokeWidth": 1.2},
      "encoding": {"x": {"field": "x", "type": "quantitative"}, "y": {"datum": -0.045}, "y2": {"datum": 0.045}}
    },
    {
      "data": {"name": "ticksY"},
      "mark": {"type": "rule", "color": "#A0A0A0", "strokeWidth": 1.2},
      "encoding": {"y": {"field": "y", "type": "quantitative"}, "x": {"datum": 4.97}, "x2": {"datum": 5.03}}
    },
    {
      "data": {"values": [{"a": 1}]},
      "mark": {"type": "rect", "fill": null, "fillOpacity": 0, "stroke": "#A8A8A8", "strokeWidth": 1.6},
      "encoding": {"x": {"datum": 0}, "x2": {"datum": 10}, "y": {"datum": -4}, "y2": {"datum": 4}}
    },
    {
      "data": {"values": [{"a": 1}]},
      "mark": {"type": "rule", "color": "#111111", "strokeWidth": 2, "strokeDash": [20, 7, 5, 7]},
      "encoding": {"y": {"datum": 0.623}, "x": {"datum": 0}, "x2": {"datum": 10}}
    },
    {
      "data": {"values": [{"a": 1}]},
      "mark": {"type": "rule", "color": "#111111", "strokeWidth": 2, "strokeDash": [24, 14]},
      "encoding": {"y": {"datum": -3.468}, "x": {"datum": 0}, "x2": {"datum": 10}}
    },
    {
      "data": {"values": [{"a": 1}]},
      "mark": {"type": "rule", "color": "#EC0A80", "strokeWidth": 2.5},
      "encoding": {"y": {"datum": -0.02}, "x": {"datum": -0.145}, "x2": {"datum": 0}}
    },
    {
      "data": {"values": [{"a": 1}]},
      "mark": {"type": "rule", "color": "#ABA500", "strokeWidth": 2.5},
      "encoding": {"y": {"datum": -1.0}, "x": {"datum": -0.145}, "x2": {"datum": 0}}
    },
    {
      "data": {"values": [{"a": 1}]},
      "mark": {"type": "point", "shape": "triangle-left", "filled": true, "color": "#ABA500", "size": 110, "opacity": 1},
      "encoding": {"x": {"datum": 10.065}, "y": {"datum": -0.224}}
    },
    {
      "data": {"values": [{"a": 1}]},
      "mark": {"type": "point", "shape": "triangle-up", "filled": true, "color": "#ABA500", "size": 110, "opacity": 1},
      "encoding": {"x": {"datum": 2.02}, "y": {"datum": -4.086}}
    },
    {
      "data": {"values": [{"a": 1}]},
      "mark": {"type": "rule", "color": "#4A4A4A", "strokeWidth": 2},
      "encoding": {"y": {"datum": 3.655}, "x": {"datum": 9.291}, "x2": {"datum": 9.952}}
    },
    {
      "data": {"name": "boxes"},
      "transform": [{"filter": "datum.k == 'panel'"}],
      "mark": {"type": "rect", "fill": "#6C64A2", "stroke": "#4A4575", "strokeWidth": 1, "cornerRadius": 4},
      "encoding": {
        "x": {"field": "x", "type": "quantitative"}, "x2": {"field": "x2"},
        "y": {"field": "y", "type": "quantitative"}, "y2": {"field": "y2"}
      }
    },
    {
      "data": {"name": "boxes"},
      "transform": [{"filter": "datum.k != 'panel'"}],
      "mark": {"type": "rect", "cornerRadius": 3},
      "encoding": {
        "x": {"field": "x", "type": "quantitative"}, "x2": {"field": "x2"},
        "y": {"field": "y", "type": "quantitative"}, "y2": {"field": "y2"},
        "color": {"field": "k", "type": "nominal", "legend": null, "scale": {"domain": ["hc1", "hc2", "hgrey", "badge"], "range": ["#ABA500", "#EC0A80", "#D8D8D8", "#111111"]}}
      }
    },
    {
      "data": {"name": "labels"},
      "transform": [{"filter": "datum.g == 'big'"}],
      "mark": {"type": "text", "font": "Open Sans", "fontWeight": "bold", "fontSize": 25, "color": "#111111", "align": "center", "baseline": "middle"},
      "encoding": {"x": {"field": "x", "type": "quantitative"}, "y": {"field": "y", "type": "quantitative"}, "text": {"field": "text"}}
    },
    {
      "data": {"name": "labels"},
      "transform": [{"filter": "datum.g == 'logo'"}],
      "mark": {"type": "text", "font": "Open Sans", "fontSize": 24, "color": "#4A4A4A", "align": "center", "baseline": "middle"},
      "encoding": {"x": {"field": "x", "type": "quantitative"}, "y": {"field": "y", "type": "quantitative"}, "text": {"field": "text"}}
    },
    {
      "data": {"name": "labels"},
      "transform": [{"filter": "datum.g == 'c2lab'"}],
      "mark": {"type": "text", "font": "DejaVu Sans", "fontSize": 13, "color": "#EC0A80", "align": "left", "baseline": "middle"},
      "encoding": {"x": {"field": "x", "type": "quantitative"}, "y": {"field": "y", "type": "quantitative"}, "text": {"field": "text"}}
    },
    {
      "data": {"name": "labels"},
      "transform": [{"filter": "datum.g == 'c1lab'"}],
      "mark": {"type": "text", "font": "DejaVu Sans", "fontSize": 13, "color": "#ABA500", "align": "left", "baseline": "middle"},
      "encoding": {"x": {"field": "x", "type": "quantitative"}, "y": {"field": "y", "type": "quantitative"}, "text": {"field": "text"}}
    },
    {
      "data": {"name": "labels"},
      "transform": [{"filter": "datum.g == 'bold'"}],
      "mark": {"type": "text", "font": "DejaVu Sans", "fontWeight": "bold", "fontSize": 15, "color": "#111111", "align": "left", "baseline": "middle"},
      "encoding": {"x": {"field": "x", "type": "quantitative"}, "y": {"field": "y", "type": "quantitative"}, "text": {"field": "text"}}
    },
    {
      "data": {"name": "labels"},
      "transform": [{"filter": "datum.g == 'il'"}],
      "mark": {"type": "text", "font": "DejaVu Sans", "fontSize": 15, "color": "#111111", "align": "left", "baseline": "middle"},
      "encoding": {"x": {"field": "x", "type": "quantitative"}, "y": {"field": "y", "type": "quantitative"}, "text": {"field": "text"}}
    },
    {
      "data": {"name": "labels"},
      "transform": [{"filter": "datum.g == 'ir'"}],
      "mark": {"type": "text", "font": "DejaVu Sans", "fontSize": 15, "color": "#111111", "align": "right", "baseline": "middle"},
      "encoding": {"x": {"field": "x", "type": "quantitative"}, "y": {"field": "y", "type": "quantitative"}, "text": {"field": "text"}}
    },
    {
      "data": {"name": "labels"},
      "transform": [{"filter": "datum.g == 'check'"}],
      "mark": {"type": "text", "font": "DejaVu Sans", "fontSize": 17, "color": "#444444", "align": "right", "baseline": "middle"},
      "encoding": {"x": {"field": "x", "type": "quantitative"}, "y": {"field": "y", "type": "quantitative"}, "text": {"field": "text"}}
    },
    {
      "data": {"name": "labels"},
      "transform": [{"filter": "datum.g == 'hl'"}],
      "mark": {"type": "text", "font": "DejaVu Sans", "fontSize": 15, "color": "#111111", "align": "left", "baseline": "middle"},
      "encoding": {"x": {"field": "x", "type": "quantitative"}, "y": {"field": "y", "type": "quantitative"}, "text": {"field": "text"}}
    },
    {
      "data": {"name": "labels"},
      "transform": [{"filter": "datum.g == 'hr'"}],
      "mark": {"type": "text", "font": "DejaVu Sans", "fontSize": 15, "color": "#111111", "align": "right", "baseline": "middle"},
      "encoding": {"x": {"field": "x", "type": "quantitative"}, "y": {"field": "y", "type": "quantitative"}, "text": {"field": "text"}}
    },
    {
      "data": {"name": "labels"},
      "transform": [{"filter": "datum.g == 'bdc1'"}],
      "mark": {"type": "text", "font": "DejaVu Sans", "fontWeight": "bold", "fontSize": 12, "color": "#ABA500", "align": "center", "baseline": "middle"},
      "encoding": {"x": {"field": "x", "type": "quantitative"}, "y": {"field": "y", "type": "quantitative"}, "text": {"field": "text"}}
    },
    {
      "data": {"name": "labels"},
      "transform": [{"filter": "datum.g == 'bdc2'"}],
      "mark": {"type": "text", "font": "DejaVu Sans", "fontWeight": "bold", "fontSize": 12, "color": "#EC0A80", "align": "center", "baseline": "middle"},
      "encoding": {"x": {"field": "x", "type": "quantitative"}, "y": {"field": "y", "type": "quantitative"}, "text": {"field": "text"}}
    },
    {
      "data": {"name": "labels"},
      "transform": [{"filter": "datum.g == 'btr'"}],
      "mark": {"type": "text", "font": "DejaVu Sans", "fontWeight": "bold", "fontSize": 12, "color": "#FFFFFF", "align": "center", "baseline": "middle"},
      "encoding": {"x": {"field": "x", "type": "quantitative"}, "y": {"field": "y", "type": "quantitative"}, "text": {"field": "text"}}
    },
    {
      "data": {"name": "labels"},
      "transform": [{"filter": "datum.g == 'wl'"}],
      "mark": {"type": "text", "font": "DejaVu Sans", "fontSize": 15, "color": "#FFFFFF", "align": "left", "baseline": "middle"},
      "encoding": {"x": {"field": "x", "type": "quantitative"}, "y": {"field": "y", "type": "quantitative"}, "text": {"field": "text"}}
    },
    {
      "data": {"name": "labels"},
      "transform": [{"filter": "datum.g == 'wr'"}],
      "mark": {"type": "text", "font": "DejaVu Sans", "fontSize": 15, "color": "#FFFFFF", "align": "right", "baseline": "middle"},
      "encoding": {"x": {"field": "x", "type": "quantitative"}, "y": {"field": "y", "type": "quantitative"}, "text": {"field": "text"}}
    }
  ]
}
